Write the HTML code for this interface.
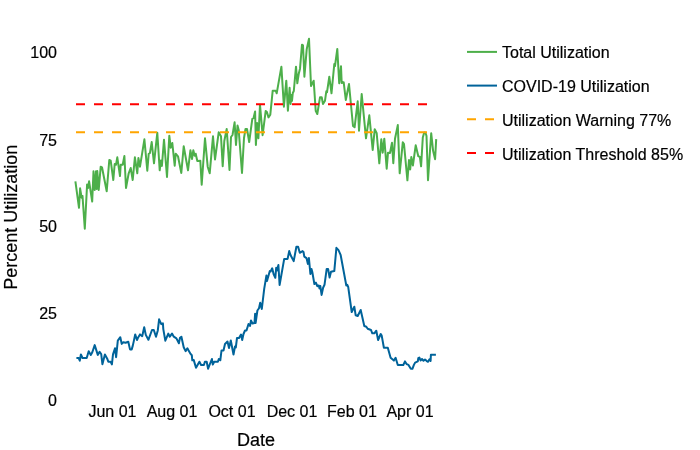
<!DOCTYPE html>
<html><head><meta charset="utf-8">
<style>
html,body{margin:0;padding:0;background:#fff;}
svg{display:block;font-family:"Liberation Sans",sans-serif;will-change:transform;}
text{stroke:#000;stroke-width:0.2px;}
</style></head>
<body>
<svg width="700" height="450" viewBox="0 0 700 450">

<g font-size="16" fill="#000" text-anchor="end">
<text x="57" y="58">100</text>
<text x="57" y="145.5">75</text>
<text x="57" y="232">50</text>
<text x="57" y="319">25</text>
<text x="57" y="406">0</text>
</g>
<g font-size="16" fill="#000" text-anchor="middle">
<text x="112.5" y="417">Jun 01</text>
<text x="172" y="417">Aug 01</text>
<text x="232" y="417">Oct 01</text>
<text x="292" y="417">Dec 01</text>
<text x="352" y="417">Feb 01</text>
<text x="410" y="417">Apr 01</text>
</g>
<text x="256" y="446" font-size="18" text-anchor="middle">Date</text>
<text transform="translate(17,217.3) rotate(-90)" font-size="18" text-anchor="middle">Percent Utilization</text>
<polyline fill="none" stroke="#4DAF4A" stroke-width="2" stroke-linejoin="round" points="75.4,181.3 79.0,207.8 80.1,188.3 81.6,197.7 82.5,196.0 84.8,228.8 87.1,184.4 88.0,188.0 89.1,181.3 92.2,201.5 93.5,171.3 94.7,190.0 96.0,171.3 96.7,189.0 97.3,171.0 98.7,190.0 100.7,166.7 102.0,167.3 106.7,191.3 109.3,160.0 110.7,160.7 113.3,180.0 114.7,164.0 116.0,164.7 117.3,157.3 120.0,176.0 120.7,164.7 122.7,164.7 124.4,156.0 126.0,188.0 128.7,173.3 130.7,168.0 132.7,180.0 134.9,157.3 137.3,173.3 138.4,158.0 140.0,166.7 144.4,139.3 147.3,170.7 148.7,153.8 149.9,153.2 151.7,142.1 154.0,163.3 157.3,132.7 159.7,170.3 160.9,160.5 161.9,166.0 164.0,139.7 167.0,177.0 169.3,135.7 170.7,147.7 172.3,143.0 174.7,165.7 175.7,153.7 178.0,156.3 181.3,173.0 183.7,146.3 188.0,170.3 190.4,150.3 192.0,159.0 193.3,150.3 194.7,155.7 195.7,153.7 197.3,161.0 200.3,160.7 201.7,184.7 205.0,138.3 207.7,166.7 209.7,173.3 213.0,136.3 215.0,159.5 218.7,132.3 221.0,136.3 222.7,166.2 224.3,141.0 226.7,129.0 229.5,170.0 231.0,137.0 232.5,135.0 234.6,122.3 236.0,145.0 237.5,125.5 238.7,130.0 242.0,173.0 244.0,138.0 245.5,129.0 247.0,129.0 249.2,142.0 252.3,118.8 253.5,118.2 255.1,111.5 255.9,145.0 257.1,123.0 258.4,138.3 260.0,104.8 262.6,135.2 265.7,110.9 266.9,112.0 268.5,117.4 270.3,114.7 270.3,114.7 272.7,90.7 275.7,90.7 276.7,93.3 281.4,66.7 283.9,106.7 286.3,80.7 287.9,110.7 289.6,87.8 290.6,104.0 291.3,95.0 292.0,101.0 292.8,93.0 293.8,91.0 296.0,66.7 297.3,83.3 298.7,74.0 300.0,68.7 302.0,44.7 303.0,45.3 304.4,76.7 306.7,49.3 309.0,38.7 311.0,86.0 313.7,80.7 315.7,110.7 317.3,114.0 320.0,97.3 321.7,97.3 323.0,104.0 325.0,100.7 326.3,91.3 327.0,92.3 329.3,76.7 331.5,93.3 334.3,64.0 335.0,66.0 337.3,49.0 339.2,83.3 341.0,66.2 341.7,83.0 343.7,82.3 345.8,100.0 349.0,84.0 353.0,126.0 354.6,127.3 357.7,101.3 359.0,130.7 361.7,94.0 366.0,138.3 369.3,115.3 372.7,150.0 374.7,129.3 376.7,133.3 379.3,163.3 381.3,139.3 382.7,152.7 384.3,138.7 386.7,168.7 388.0,152.7 390.0,153.0 392.0,142.7 393.3,163.3 395.0,138.7 397.8,125.1 399.7,173.3 402.8,142.2 404.0,144.0 407.4,180.3 409.0,160.1 410.2,169.4 411.3,157.0 412.9,165.5 415.7,145.3 418.3,156.2 419.9,157.0 421.1,166.3 422.8,137.5 424.2,132.6 425.5,132.8 426.5,136.0 428.0,180.3 431.2,133.2 433.1,150.8 435.1,159.3 436.2,139.1"/>
<polyline fill="none" stroke="#00639A" stroke-width="2" stroke-linejoin="round" points="76.4,358.0 78.7,358.0 79.8,360.7 80.9,354.4 82.5,358.0 86.7,358.0 88.7,351.3 90.8,354.9 92.3,352.2 94.7,345.1 97.8,354.9 99.6,351.8 101.2,354.0 102.4,364.2 104.9,354.4 107.1,358.4 108.3,361.7 110.6,361.7 111.9,364.4 113.0,354.4 115.0,348.3 116.1,357.2 117.8,340.6 120.3,337.2 121.7,343.9 123.3,342.2 125.6,342.8 128.3,341.7 130.0,349.4 131.7,349.4 132.8,345.6 133.9,340.6 135.2,334.4 137.0,340.0 138.3,337.2 140.0,334.4 142.2,336.2 144.2,327.3 145.8,334.9 148.4,339.8 152.0,330.0 153.8,330.0 156.0,336.7 157.8,330.4 159.1,319.3 161.3,324.2 162.9,323.3 163.3,329.1 165.3,340.7 168.3,333.6 169.8,336.7 172.0,333.6 173.8,336.7 176.4,338.4 178.9,343.3 180.0,337.8 181.4,336.7 183.7,347.2 185.6,351.1 187.4,348.3 188.9,351.1 190.6,353.9 191.8,355.2 192.3,360.3 193.7,359.9 196.0,367.8 199.4,361.7 201.1,365.0 203.9,365.0 204.9,361.7 206.7,361.7 208.1,368.7 211.9,359.0 212.8,364.5 214.2,361.7 217.9,361.7 218.8,359.0 220.3,360.3 221.5,350.5 223.5,350.5 225.0,344.0 227.5,341.5 229.0,348.0 230.8,340.5 233.5,354.5 235.0,346.5 235.8,347.5 237.0,338.0 239.0,338.0 241.0,334.5 242.2,340.0 243.5,334.0 245.0,330.5 246.5,330.5 248.5,324.0 250.0,326.0 251.0,320.5 252.5,323.5 254.5,323.0 255.1,313.7 255.6,323.0 257.4,310.5 259.0,308.2 260.2,302.8 261.8,309.0 264.2,288.9 266.4,275.6 267.0,281.1 269.8,271.1 270.6,271.5 272.2,268.3 273.7,274.4 275.3,277.8 276.2,267.8 277.0,270.5 278.4,265.0 279.6,285.0 284.2,258.9 287.6,258.9 289.2,251.1 290.5,255.0 293.7,261.1 296.4,246.7 298.1,246.7 299.8,252.8 302.6,251.1 303.5,252.0 304.3,256.6 306.5,258.1 307.9,263.9 308.9,258.1 310.4,274.0 311.5,268.9 312.3,272.0 314.4,284.1 315.9,282.6 317.3,286.2 318.8,285.5 319.5,288.4 320.3,286.0 321.6,294.9 323.1,287.7 324.5,284.8 326.7,268.9 328.1,268.9 329.6,277.6 331.0,271.8 334.3,271.1 336.4,247.8 338.5,250.1 340.6,254.8 346.3,285.5 347.3,284.8 348.2,286.8 351.7,312.0 354.3,306.7 355.7,315.3 357.7,316.0 360.7,310.0 364.3,326.0 366.3,326.7 367.7,328.7 371.0,330.0 372.3,333.3 374.3,333.3 376.3,330.7 378.1,340.0 380.7,334.0 381.7,335.6 383.9,347.8 387.8,347.8 390.6,357.8 393.9,360.6 395.6,357.8 397.8,365.0 403.3,365.0 405.0,361.4 406.6,364.1 408.5,364.9 410.8,368.8 412.4,368.8 413.9,364.9 415.1,362.6 417.8,361.4 418.3,358.2 419.4,357.6 420.5,360.5 422.0,359.0 423.5,360.8 425.0,359.5 426.5,360.8 428.0,361.8 429.5,359.2 430.6,361.0 430.9,354.7 435.9,354.7"/>
<g stroke-width="2" stroke-dasharray="9 9">
<line x1="76" y1="104.3" x2="428" y2="104.3" stroke="#FF0000"/>
<line x1="76" y1="132.3" x2="428" y2="132.3" stroke="#FFA500"/>
</g>
<g font-size="16" fill="#000">
<line x1="467" y1="51.9" x2="497" y2="51.9" stroke="#4DAF4A" stroke-width="2"/>
<text x="502" y="58">Total Utilization</text>
<line x1="467" y1="85.6" x2="497" y2="85.6" stroke="#00639A" stroke-width="2"/>
<text x="502" y="92">COVID-19 Utilization</text>
<line x1="467" y1="119.3" x2="497" y2="119.3" stroke="#FFA500" stroke-width="2" stroke-dasharray="9 9"/>
<text x="502" y="126">Utilization Warning 77%</text>
<line x1="467" y1="153" x2="497" y2="153" stroke="#FF0000" stroke-width="2" stroke-dasharray="9 9"/>
<text x="502" y="160">Utilization Threshold 85%</text>
</g>
</svg>
</body></html>
